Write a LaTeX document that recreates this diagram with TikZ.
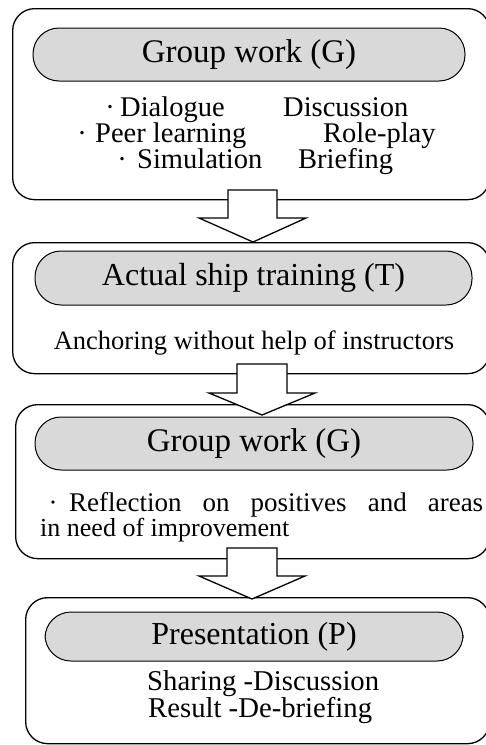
\documentclass[tikz,border=0pt]{standalone}
\usepackage{fontspec}
\setmainfont{Liberation Serif}
\definecolor{pillgray}{RGB}{217,217,217}
\tikzset{
  box/.style={draw, line width=1.3pt, rounded corners=22pt, fill=white, inner sep=0pt, anchor=north west},
  pill/.style={draw, line width=1pt, fill=pillgray, rounded corners=26pt, inner sep=0pt, font=\fontsize{32}{36}\selectfont},
  body/.style={inner sep=0pt, anchor=base west, font=\fontsize{26.5}{27}\selectfont},
  bigbody/.style={body, font=\fontsize{28.5}{30}\selectfont},
  dotmark/.style={bigbody, anchor=base},
  blockarrow/.style={draw, line width=1.3pt, fill=white, line join=miter},
}
\begin{document}
\begin{tikzpicture}[x=1pt,y=-1pt]
\useasboundingbox (0,0) rectangle (486,745);
% outer boxes
\node[box, minimum width=477pt, minimum height=191pt] (b1) at (12,8) {};
\node[box, minimum width=477pt, minimum height=131pt] (b2) at (12,242) {};
\node[box, minimum width=474pt, minimum height=154pt] (b3) at (15,404) {};
\node[box, minimum width=464pt, minimum height=146pt] (b4) at (25,597) {};
% pills
\node[pill, minimum width=432pt, minimum height=53pt, font=\fontsize{33}{36}\selectfont] (p1) at (249,54.5) {Group work (G)};
\node[pill, minimum width=437pt, minimum height=54pt] (p2) at (253.5,278) {Actual ship training (T)};
\node[pill, minimum width=438pt, minimum height=53pt, font=\fontsize{33}{36}\selectfont] (p3) at (254,443.5) {Group work (G)};
\node[pill, minimum width=418pt, minimum height=49pt] (p4) at (254,636.5) {Presentation (P)};
% box 1 text
\node[dotmark] (l1b) at (110,116) {·};
\node[bigbody] (l1a) at (120,116) {Dialogue};
\node[bigbody] (l1c) at (283,116) {Discussion};
\node[dotmark] (l2b) at (82,142) {·};
\node[bigbody] (l2a) at (95,142) {Peer learning};
\node[bigbody] (l2c) at (323,142) {Role-play};
\node[dotmark] (l3b) at (122,168) {·};
\node[bigbody] (l3a) at (137,168) {Simulation};
\node[bigbody] (l3c) at (298,168) {Briefing};
% box 2 text
\node[body, anchor=base] (t2) at (254,349) {Anchoring without help of instructors};
% box 3 text
\node[dotmark, font=\fontsize{27}{28}\selectfont] (r1b) at (53,511) {·};
\node[body, font=\fontsize{27}{28}\selectfont] (r1) at (69,511) {\makebox[414pt][s]{Reflection on positives and areas}};
\node[body, font=\fontsize{26}{28}\selectfont] (r2) at (40,536) {in need of improvement};
% box 4 text
\node[bigbody, font=\fontsize{28.7}{30}\selectfont] (s1) at (147,690) {Sharing -Discussion};
\node[bigbody, font=\fontsize{28.7}{30}\selectfont] (s2) at (148,717) {Result -De-briefing};
% block arrows
\coordinate (a1tip) at (253,242);
\coordinate (a2tip) at (262,415);
\coordinate (a3tip) at (252,599);
\draw[blockarrow] (228,190) -- (277,190) -- (277,218) -- (306,218) -- (a1tip) -- (199,218) -- (228,218) -- cycle;
\draw[blockarrow] (237,364) -- (287,364) -- (287,393) -- (315,393) -- (a2tip) -- (209,393) -- (237,393) -- cycle;
\draw[blockarrow] (227,548) -- (277,548) -- (277,576) -- (305,576) -- (a3tip) -- (199,576) -- (227,576) -- cycle;
\end{tikzpicture}
\end{document}
